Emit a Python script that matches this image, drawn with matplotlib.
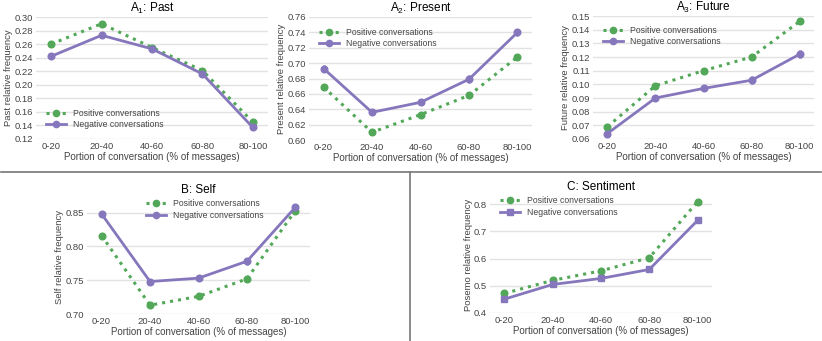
import numpy as np
import matplotlib.pyplot as plt
from matplotlib.lines import Line2D

plt.rcParams['font.family'] = ['Liberation Sans', 'DejaVu Sans']
plt.rcParams['mathtext.fontset'] = 'custom'
plt.rcParams['mathtext.rm'] = 'Liberation Sans'
plt.rcParams['mathtext.it'] = 'Liberation Sans'

# Datos
categorias = ['0-20', '20-40', '40-60', '60-80', '80-100']

past_pos = [0.260, 0.290, 0.255, 0.221, 0.145]
past_neg = [0.242, 0.273, 0.253, 0.216, 0.137]
past_pos_err = [0.002, 0.002, 0.002, 0.002, 0.002]
past_neg_err = [0.003, 0.003, 0.003, 0.003, 0.003]

present_pos = [0.669, 0.610, 0.633, 0.658, 0.708]
present_neg = [0.693, 0.636, 0.649, 0.679, 0.740]
present_pos_err = [0.002, 0.002, 0.002, 0.002, 0.002]
present_neg_err = [0.004, 0.004, 0.004, 0.005, 0.005]

future_pos = [0.069, 0.099, 0.110, 0.120, 0.146]
future_neg = [0.064, 0.090, 0.097, 0.103, 0.122]
future_pos_err = [0.0015, 0.0015, 0.0015, 0.0015, 0.002]
future_neg_err = [0.002, 0.002, 0.002, 0.003, 0.003]

self_pos = [0.816, 0.713, 0.726, 0.752, 0.853]
self_neg = [0.848, 0.748, 0.753, 0.778, 0.858]
self_pos_err = [0.002, 0.002, 0.002, 0.002, 0.002]
self_neg_err = [0.004, 0.004, 0.004, 0.005, 0.005]

posemo_pos = [0.472, 0.520, 0.555, 0.603, 0.809]
posemo_neg = [0.451, 0.505, 0.527, 0.560, 0.740]
posemo_pos_err = [0.005, 0.005, 0.005, 0.005, 0.006]
posemo_neg_err = [0.005, 0.005, 0.005, 0.005, 0.006]

verde = '#52a858'
morado = '#8677bd'
gris_texto = '#444444'

W, H = 822, 341
fig = plt.figure(figsize=(W / 100, H / 100), dpi=100)


def ejes(x0, x1, y0, y1):
    # caja en pixeles (y desde arriba)
    return fig.add_axes([x0 / W, (H - y1) / H, (x1 - x0) / W, (y1 - y0) / H])


def panel(ax, titulo, ylabel, pos, neg, pos_err, neg_err, ylim, yticks, fmt,
          legend_loc, bbox, neg_marker='o'):
    x = np.arange(len(categorias))
    ax.errorbar(x, pos, yerr=pos_err, color=verde, ls=':', lw=2.2, marker='o',
                ms=4.8, elinewidth=2, capsize=0, zorder=3)
    ax.errorbar(x, neg, yerr=neg_err, color=morado, ls='-', lw=2, marker=neg_marker,
                ms=4.8, elinewidth=2, capsize=0, zorder=3)
    ax.set_xlim(-0.3, len(categorias) - 0.7)
    ax.set_ylim(*ylim)
    ax.set_yticks(yticks)
    ax.set_yticklabels([fmt.format(v) for v in yticks])
    ax.set_xticks(x)
    ax.set_xticklabels(categorias)
    ax.grid(axis='y', color='#e2e2e2', lw=1)
    ax.set_axisbelow(True)
    for s in ax.spines.values():
        s.set_visible(False)
    ax.tick_params(length=0, labelsize=6.8, colors=gris_texto, pad=2)
    ax.set_title(titulo, fontsize=8.5, pad=4)
    ax.set_ylabel(ylabel, fontsize=6.8, color=gris_texto, labelpad=1)
    ax.set_xlabel('Portion of conversation (% of messages)', fontsize=7,
                  color=gris_texto, labelpad=1)
    h_pos = Line2D([], [], color=verde, ls=':', lw=2.2, marker='o', ms=4.5)
    h_neg = Line2D([], [], color=morado, ls='-', lw=2, marker=neg_marker, ms=4.5)
    leg = ax.legend([h_pos, h_neg], ['Positive conversations', 'Negative conversations'],
                    loc=legend_loc, bbox_to_anchor=bbox, frameon=False, fontsize=6.2,
                    handlelength=2.3, handletextpad=0.8, labelspacing=0.3,
                    borderaxespad=0)
    for t in leg.get_texts():
        t.set_color(gris_texto)


ax1 = ejes(36, 268, 17, 139)
panel(ax1, r'$\mathrm{A_1}$: Past', 'Past relative frequency', past_pos, past_neg,
      past_pos_err, past_neg_err, (0.12, 0.30), np.arange(0.12, 0.301, 0.02), '{:.2f}',
      'lower left', (0.03, 0.05))

ax2 = ejes(309, 532, 17, 140)
panel(ax2, r'$\mathrm{A_2}$: Present', 'Present relative frequency', present_pos, present_neg,
      present_pos_err, present_neg_err, (0.60, 0.76), np.arange(0.60, 0.761, 0.02), '{:.2f}',
      'upper left', (0.03, 0.94))

ax3 = ejes(593, 814, 16, 139)
panel(ax3, r'$\mathrm{A_3}$: Future', 'Future relative frequency', future_pos, future_neg,
      future_pos_err, future_neg_err, (0.06, 0.15), np.arange(0.06, 0.151, 0.01), '{:.2f}',
      'upper left', (0.03, 0.95))

ax4 = ejes(87, 310, 199, 314)
panel(ax4, 'B: Self', 'Self relative frequency', self_pos, self_neg,
      self_pos_err, self_neg_err, (0.70, 0.87), [0.70, 0.75, 0.80, 0.85], '{:.2f}',
      'upper left', (0.25, 1.03))

ax5 = ejes(490, 712, 196, 313)
panel(ax5, 'C: Sentiment', 'Posemo relative frequency', posemo_pos, posemo_neg,
      posemo_pos_err, posemo_neg_err, (0.40, 0.83), [0.4, 0.5, 0.6, 0.7, 0.8], '{:.1f}',
      'upper left', (0.03, 1.03), neg_marker='s')

# lineas divisorias
fig.add_artist(Line2D([1 / W, 821 / W], [(H - 172) / H] * 2, color='#777777', lw=1.2))
fig.add_artist(Line2D([410 / W] * 2, [0, (H - 172) / H], color='#777777', lw=1.2))

fig.savefig('out.png', dpi=100)
